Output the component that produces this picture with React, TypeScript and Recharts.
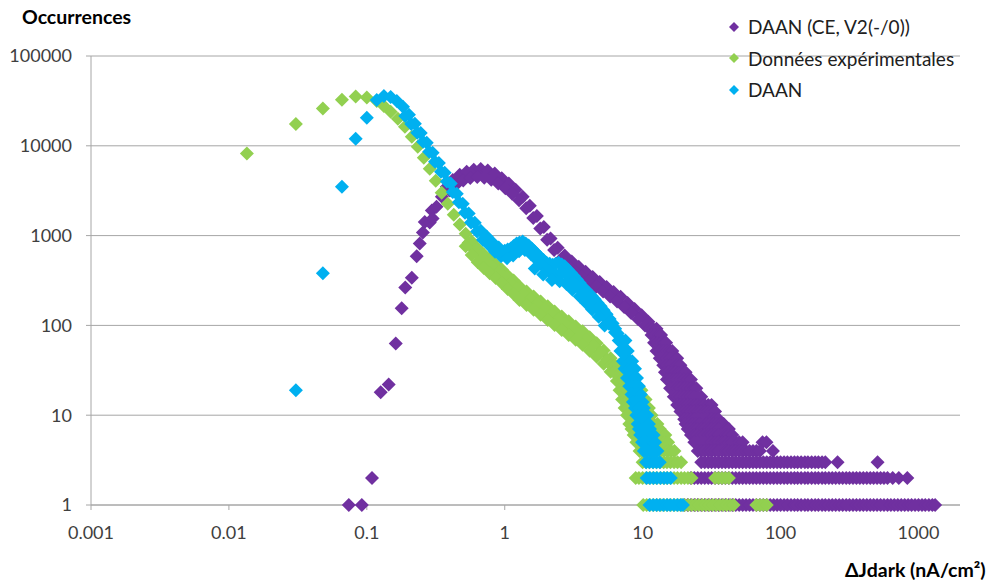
import { ScatterChart, Scatter, XAxis, YAxis, CartesianGrid } from 'recharts';

type Pt = [number, number];

// one horizontal run of points sharing the same count
const row = (y: number, xs: number[]): Pt[] => xs.map((x) => [x, y]);

const xTicks = [0.001, 0.01, 0.1, 1, 10, 100, 1000];
const yTicks = [1, 10, 100, 1000, 10000, 100000];

// DAAN (CE, V2(-/0)) : rising side and the hump
const daanCeHump: Pt[] = [
  [0.074, 1], [0.092, 1], [0.109, 2], [0.126, 18], [0.144, 22], [0.162, 63], [0.179, 155], [0.19, 265],
  [0.212, 340], [0.23, 590], [0.242, 815], [0.255, 1080], [0.263, 1420], [0.286, 1400], [0.296, 1900],
  [0.3, 1550], [0.32, 2100], [0.35, 2700],
  [0.38, 3500], [0.42, 4150], [0.472, 4750], [0.53, 5150], [0.596, 5400], [0.67, 5500], [0.753, 5300],
  [0.846, 4900], [0.951, 4350], [1.07, 3800], [1.2, 3250], [1.35, 2700], [1.52, 2150], [1.71, 1650],
  [1.92, 1250], [2.15, 930], [2.42, 730], [2.72, 600], [3.06, 515], [3.44, 450], [3.86, 395], [4.34, 345],
  [4.88, 305], [5.48, 268], [6.16, 236], [6.92, 208], [7.78, 178], [8.75, 152], [9.84, 130], [11, 110],
  [0.4, 3180], [0.445, 3700], [0.5, 4120], [0.562, 4370], [0.632, 4480], [0.71, 4420], [0.798, 4180],
  [0.897, 3800], [1.01, 3370], [1.13, 2930], [1.27, 2470], [1.43, 2010], [1.61, 1570], [1.81, 1200],
  [2.03, 900], [2.28, 690], [2.57, 550], [2.89, 463], [3.24, 400], [3.64, 350], [4.09, 308], [4.6, 270],
  [5.17, 238], [5.81, 210], [6.53, 185], [7.34, 160], [8.25, 137], [9.28, 117], [10.4, 100],
];

// DAAN (CE, V2(-/0)) : steep tail and low counts
const daanCeTail: Pt[] = [
  ...row(92, [11.2, 11.9, 12.6]),
  ...row(78, [11.6, 12.3, 13, 13.6]),
  ...row(64, [12.1, 12.8, 13.6, 14.4, 14.8]),
  ...row(52, [12.6, 13.3, 14.1, 15, 15.8, 16.4]),
  ...row(43, [13.3, 14.1, 15, 15.8, 16.8, 17.8]),
  ...row(36, [14.1, 15, 15.8, 16.8, 17.8, 18.8]),
  ...row(30, [14.5, 15.4, 16.3, 17.3, 18.3, 19.4, 20.5]),
  ...row(25, [15, 15.8, 16.8, 17.8, 18.8, 20, 21.2, 22.4]),
  ...row(20, [15.8, 16.8, 17.8, 18.8, 20, 21.2, 22.4, 23.7, 24.5]),
  ...row(16, [16.8, 17.8, 18.8, 20, 21.2, 22.4, 23.7, 25.1, 26.6]),
  ...row(13, [17.8, 18.8, 20, 21.2, 22.4, 23.7, 25.1, 26.6, 28.2, 29.9, 31.6]),
  ...row(11, [18.8, 20, 21.2, 22.4, 23.7, 25.1, 26.6, 28.2, 29.9, 31.6, 33.5]),
  ...row(9, [20, 21.2, 22.4, 23.7, 25.1, 26.6, 28.2, 29.9, 31.6, 33.5, 35.5]),
  ...row(8, [20.5, 21.7, 23, 24.4, 25.8, 27.4, 29, 30.7, 32.5, 34.5, 36.5, 38.7]),
  ...row(7, [21.2, 22.4, 23.7, 25.1, 26.6, 28.2, 29.9, 31.6, 33.5, 35.5, 37.6, 39.8, 42.2]),
  ...row(6, [22.4, 23.7, 25.1, 26.6, 28.2, 29.9, 31.6, 33.5, 35.5, 37.6, 39.8, 42.2, 44.7]),
  ...row(5, [23.7, 25.1, 26.6, 28.2, 29.9, 31.6, 33.5, 35.5, 37.6, 39.8, 42.2, 44.7, 47.3, 50.1, 53.1, 74, 79]),
  ...row(4, [25.1, 26.6, 28.2, 29.9, 31.6, 33.5, 35.5, 37.6, 39.8, 42.2, 44.7, 47.3, 50.1, 53.1, 56.2, 59.6,
    63.1, 66.8, 70.8, 88]),
  ...row(3, [26.6, 28.2, 29.9, 31.6, 33.5, 35.5, 37.6, 39.8, 42.2, 44.7, 47.3, 50.1, 53.1, 56.2, 59.6, 63.1,
    66.8, 70.8, 75, 79.4, 84.1, 89.1, 94.4, 100, 106, 112, 119, 126, 133, 141, 150, 158, 168, 178, 188, 200,
    211, 259, 505]),
  ...row(2, [22.4, 23.7, 25.1, 26.6, 28.2, 29.9, 31.6, 33.5, 35.5, 37.6, 39.8, 42.2, 44.7, 47.3, 50.1, 53.1,
    56.2, 59.6, 63.1, 66.8, 70.8, 75, 79.4, 84.1, 89.1, 94.4, 100, 106, 112, 119, 126, 133, 141, 150, 158,
    168, 178, 188, 200, 211, 224, 237, 251, 266, 282, 299, 316, 335, 355, 376, 398, 422, 447, 473, 501, 531,
    562, 596, 650, 720, 830]),
  ...row(1, [20, 21.2, 22.4, 23.7, 25.1, 26.6, 28.2, 29.9, 31.6, 33.5, 35.5, 37.6, 39.8, 42.2, 44.7, 47.3,
    50.1, 53.1, 56.2, 59.6, 63.1, 66.8, 70.8, 75, 79.4, 84.1, 89.1, 94.4, 100, 106, 112, 119, 126, 133, 141,
    150, 158, 168, 178, 188, 200, 211, 224, 237, 251, 266, 282, 299, 316, 335, 355, 376, 398, 422, 447, 473,
    501, 531, 562, 596, 631, 668, 708, 750, 794, 841, 891, 944, 1000, 1060, 1120, 1190, 1260, 1320]),
];

// Données expérimentales : main curve
const donneesCurve: Pt[] = [
  [0.0135, 8200], [0.0306, 17500], [0.048, 26000], [0.066, 32500], [0.083, 35500], [0.1, 34500],
  [0.118, 31600], [0.133, 27800], [0.149, 23900], [0.168, 19950], [0.189, 16250], [0.212, 12600],
  [0.234, 9750], [0.259, 7360], [0.286, 5550], [0.316, 4080], [0.349, 3000], [0.386, 2270], [0.427, 1710],
  [0.472, 1330], [0.521, 1050], [0.576, 860], [0.637, 717], [0.705, 615], [0.778, 541], [0.86, 476],
  [0.951, 419], [1.05, 359], [1.16, 316], [1.28, 271], [1.44, 239], [1.62, 210], [1.82, 185], [2.05, 163],
  [2.3, 143], [2.59, 126], [2.91, 111], [3.27, 97.5], [3.67, 85.8], [4.13, 73.6], [4.64, 63.1], [5.22, 52.7],
  [5.86, 43],
  [0.548, 833], [0.606, 689], [0.67, 582], [0.74, 506], [0.818, 445], [0.904, 392], [1.0, 340], [1.1, 295],
  [1.22, 257], [1.36, 223], [1.53, 197], [1.72, 173], [1.93, 152], [2.17, 134], [2.44, 118], [2.75, 104],
  [3.08, 91.3], [3.46, 80.2], [3.89, 69.7], [4.38, 59.8], [4.92, 50.6], [5.53, 41.8],
  [0.521, 760], [0.576, 610], [0.637, 505], [0.705, 435], [0.778, 382], [0.86, 337], [0.951, 296],
  [1.05, 254], [1.16, 224], [1.28, 192], [1.44, 169], [1.62, 149], [1.82, 131], [2.05, 115], [2.3, 101],
  [2.59, 89], [2.91, 78.4], [3.27, 69], [3.67, 60.7], [4.13, 52.1], [4.64, 44.7], [5.22, 37.3], [5.86, 30.4],
];

// Données expérimentales : tail
const donneesTail: Pt[] = [
  ...row(36, [5.9, 6.3, 6.7]),
  ...row(30, [6.2, 6.6, 7, 7.4, 7.8]),
  ...row(24, [6.5, 6.9, 7.3, 7.8, 8.3]),
  ...row(19, [6.8, 7.2, 7.7, 8.2, 8.7, 9.2, 9.8]),
  ...row(15, [7.1, 7.5, 8, 8.5, 9, 9.5, 10, 10.5]),
  ...row(12, [7.4, 7.8, 8.3, 8.8, 9.3, 9.9, 10.5, 11.1]),
  ...row(10, [7.7, 8.2, 8.7, 9.2, 9.8, 10.4, 11, 11.6]),
  ...row(8, [8, 8.5, 9, 9.5, 10.1, 10.7, 11.3, 12, 12.8]),
  ...row(7, [8.3, 8.8, 9.3, 9.9, 10.5, 11.1, 11.8, 12.5, 13.3]),
  ...row(6, [8.6, 9.1, 9.7, 10.3, 10.9, 11.6, 12.3, 13, 13.8, 14.6]),
  ...row(5, [9, 9.5, 10.1, 10.7, 11.4, 12.1, 12.8, 13.6, 14.4, 15.3]),
  ...row(4, [9.5, 10, 10.6, 11.3, 12, 12.7, 13.5, 14.3, 15.2, 16.1, 17]),
  ...row(3, [10, 10.6, 11.2, 11.9, 12.6, 13.4, 14.2, 15, 15.9, 16.9, 17.9, 19]),
  ...row(2, [8.9, 9.4, 10, 10.6, 11.2, 11.9, 12.6, 13.4, 14.2, 15, 15.9, 16.9, 17.9, 19, 20.1, 21.3, 22.6,
    33.5, 35.5, 37.6, 39.8, 42.2]),
  ...row(1, [10.1, 10.7, 11.3, 12, 12.7, 13.5, 14.3, 15.1, 16, 17, 18, 19.1, 20.2, 21.4, 22.7, 24.1, 25.5, 27,
    28.7, 30.4, 32.2, 34.1, 36.2, 38.3, 40.6, 43.1, 45.6, 66.8, 70.8, 75, 79.4]),
];

// DAAN : main curve
const daanCurve: Pt[] = [
  [0.0306, 19], [0.048, 380], [0.066, 3500], [0.083, 12000], [0.1, 20500],
  [0.118, 32400], [0.133, 35900], [0.149, 35000], [0.165, 31600], [0.183, 27200], [0.202, 22100],
  [0.223, 17600], [0.246, 13900], [0.272, 10800], [0.3, 8350], [0.333, 6450], [0.367, 5010], [0.406, 3810],
  [0.449, 2930], [0.496, 2270], [0.548, 1760], [0.606, 1390], [0.67, 1130], [0.74, 980], [0.818, 830],
  [0.905, 735], [1, 680], [1.105, 720], [1.22, 815], [1.35, 860], [1.49, 775], [1.65, 665], [1.82, 570],
  [2.01, 500], [2.23, 475], [2.46, 500], [2.72, 455], [3.01, 385], [3.33, 325], [3.67, 270], [4.06, 230],
  [4.49, 195], [4.96, 163], [5.48, 133], [6.06, 105], [6.59, 81],
  [1.05, 700], [1.16, 765], [1.28, 837], [1.42, 816], [1.57, 718], [1.73, 616], [1.91, 534], [2.12, 487],
  [2.34, 487], [2.59, 477], [2.86, 418], [3.17, 354], [3.5, 296], [3.86, 249], [4.27, 212], [4.72, 178],
  [5.21, 147], [5.76, 118], [6.32, 92],
  [0.19, 21500], [0.21, 17500], [0.232, 14000], [0.256, 11100], [0.283, 8600], [0.312, 6650], [0.345, 5150],
  [0.38, 4000], [0.42, 3050], [0.465, 2350], [0.515, 1800], [0.57, 1400], [0.63, 1110], [0.695, 900],
  [0.77, 780], [0.85, 660], [0.94, 590], [1.04, 560], [1.15, 600], [1.27, 670], [1.4, 690], [1.55, 620],
  [1.72, 530], [1.9, 455], [2.1, 400], [2.32, 375], [2.56, 385], [2.83, 360], [3.13, 305], [3.46, 258],
  [3.82, 216], [4.22, 183], [4.67, 155], [5.15, 128], [5.7, 104], [6.3, 84],
  [1.65, 430], [1.9, 370], [2.2, 320], [2.5, 310], [2.8, 290], [3.1, 250], [3.5, 210], [3.9, 178],
  [4.3, 150], [4.8, 125], [5.3, 100],
];

// DAAN : tail
const daanTail: Pt[] = [
  ...row(68, [6.7, 7.1, 7.5]),
  ...row(52, [6.9, 7.3, 7.8]),
  ...row(40, [7.2, 7.6, 8.1, 8.4]),
  ...row(33, [7.4, 7.9, 8.4, 8.8]),
  ...row(26, [7.7, 8.2, 8.7, 9.1]),
  ...row(21, [8, 8.5, 9, 9.4]),
  ...row(17, [8.3, 8.8, 9.3, 9.7]),
  ...row(14, [8.5, 9, 9.5, 10]),
  ...row(12, [8.8, 9.3, 9.8, 10.2]),
  ...row(10, [9, 9.6, 10.2, 10.8]),
  ...row(8, [9.2, 9.8, 10.4, 11.1]),
  ...row(7, [9.4, 10, 10.6, 11.3]),
  ...row(6, [9.6, 10.2, 10.9, 11.6, 12]),
  ...row(5, [9.9, 10.5, 11.1, 11.8, 12.3]),
  ...row(4, [10.2, 10.8, 11.5, 12.2, 12.8]),
  ...row(3, [10.6, 11.2, 11.9, 12.6, 13.3]),
  ...row(2, [10.7, 11.3, 12, 12.7, 13.5, 14.3, 15.1, 16]),
  ...row(1, [11.2, 11.9, 12.6, 13.3, 14.1, 15, 15.8, 16.8, 17.8, 18.8, 19.6]),
];

const series = [
  { name: 'DAAN (CE, V2(-/0))', color: '#7030A0', points: [...daanCeHump, ...daanCeTail] },
  { name: 'Données expérimentales', color: '#92D050', points: [...donneesCurve, ...donneesTail] },
  { name: 'DAAN', color: '#00B0F0', points: [...daanCurve, ...daanTail] },
];

const FONT = 'Lato, "Open Sans", sans-serif';
const GRID = '#a6a6a6';

function diamond(r: number) {
  return (props: any) => {
    const { cx, cy, fill } = props;
    if (cx == null || cy == null) return <g />;
    return (
      <path
        d={`M${cx} ${cy - r}L${cx + r} ${cy}L${cx} ${cy + r}L${cx - r} ${cy}Z`}
        fill={fill}
      />
    );
  };
}

export default function App() {
  return (
    <div style={{ position: 'absolute', left: 0, top: 0, width: 992, height: 588, background: '#fff', fontFamily: FONT }}>
      <ScatterChart
        width={992}
        height={588}
        margin={{ top: 56, right: 32, bottom: 43, left: 0 }}
      >
        <CartesianGrid vertical={false} stroke={GRID} />
        <XAxis
          type="number"
          dataKey="x"
          scale="log"
          domain={[0.001, 2000]}
          ticks={xTicks}
          tickFormatter={(v) => String(v)}
          height={40}
          tickSize={5}
          tickMargin={16}
          stroke={GRID}
          tick={{ fill: '#404040', fontSize: 18, fontFamily: FONT }}
        />
        <YAxis
          type="number"
          dataKey="y"
          scale="log"
          domain={[1, 100000]}
          ticks={yTicks}
          tickFormatter={(v) => String(v)}
          width={91}
          tickSize={5}
          tickMargin={14}
          stroke={GRID}
          tick={{ fill: '#404040', fontSize: 18, fontFamily: FONT }}
        />
        {series.map((s) => (
          <Scatter
            key={s.name}
            name={s.name}
            data={s.points.map(([x, y]) => ({ x, y }))}
            fill={s.color}
            shape={diamond(7)}
            isAnimationActive={false}
          />
        ))}
      </ScatterChart>

      <div style={{ position: 'absolute', left: 22, top: 5, fontWeight: 700, fontSize: 19.5, color: '#000' }}>
        Occurrences
      </div>
      <div style={{ position: 'absolute', left: 845, top: 558, fontWeight: 700, fontSize: 19.5, color: '#000' }}>
        ΔJdark (nA/cm²)
      </div>

      <div style={{ position: 'absolute', left: 727, top: 11 }}>
        {series.map((s) => (
          <div key={s.name} style={{ display: 'flex', alignItems: 'center', height: 31.5, fontSize: 19, color: '#202020' }}>
            <svg width={14} height={14} style={{ marginRight: 7 }}>
              <path d="M7 2L12 7L7 12L2 7Z" fill={s.color} />
            </svg>
            {s.name}
          </div>
        ))}
      </div>
    </div>
  );
}
